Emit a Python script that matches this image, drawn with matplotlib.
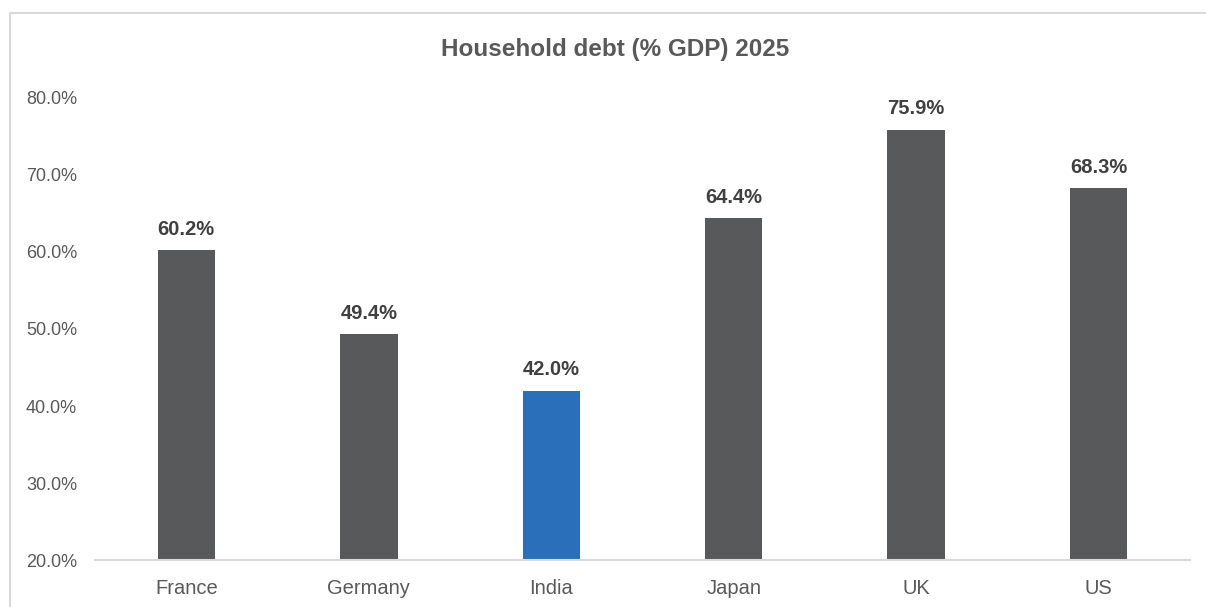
import matplotlib.pyplot as plt
from matplotlib.patches import Rectangle
from matplotlib.ticker import FuncFormatter

plt.rcParams['font.family'] = ['Liberation Sans', 'DejaVu Sans']

countries = ['France', 'Germany', 'India', 'Japan', 'UK', 'US']
debt_pct = [60.2, 49.4, 42.0, 64.4, 75.9, 68.3]
bar_colors = ['#58595b', '#58595b', '#2a6fb9', '#58595b', '#58595b', '#58595b']

fig = plt.figure(figsize=(12.06, 6.07), dpi=100)
ax = fig.add_axes([0.0788, 0.0774, 0.9079, 0.7612])

# chart frame (runs off the right and bottom edges)
fig.add_artist(Rectangle((10 / 1206, -0.05), 1.2, 1 + 0.05 - 13 / 607,
                         transform=fig.transFigure, fill=False,
                         edgecolor='#d9d9d9', linewidth=1.5))

x = range(len(countries))
bars = ax.bar(x, debt_pct, width=0.315, color=bar_colors, bottom=0, zorder=2)

for xi, v in zip(x, debt_pct):
    ax.annotate(f'{v:.1f}%', (xi, v), xytext=(0, 8), textcoords='offset points',
                ha='center', va='bottom', fontsize=14.5, fontweight='bold',
                color='#404040')

ax.set_xlim(-0.5, len(countries) - 0.5)
ax.set_ylim(20, 80)
ax.set_yticks([20, 30, 40, 50, 60, 70, 80])
ax.yaxis.set_major_formatter(FuncFormatter(lambda v, p: f'{v:.1f}%'))
ax.set_xticks(list(x))
ax.set_xticklabels(countries)

for s in ['top', 'right', 'left']:
    ax.spines[s].set_visible(False)
ax.spines['bottom'].set_color('#d9d9d9')
ax.spines['bottom'].set_linewidth(1.5)
ax.tick_params(axis='both', length=0, labelcolor='#595959')
ax.tick_params(axis='x', pad=14, labelsize=14.5)
ax.tick_params(axis='y', pad=13, labelsize=13)

fig.text(0.51, 0.918, 'Household debt (% GDP) 2025', ha='center', va='center',
         fontsize=17.5, fontweight='bold', color='#595959')

fig.savefig('out.png', dpi=100)
